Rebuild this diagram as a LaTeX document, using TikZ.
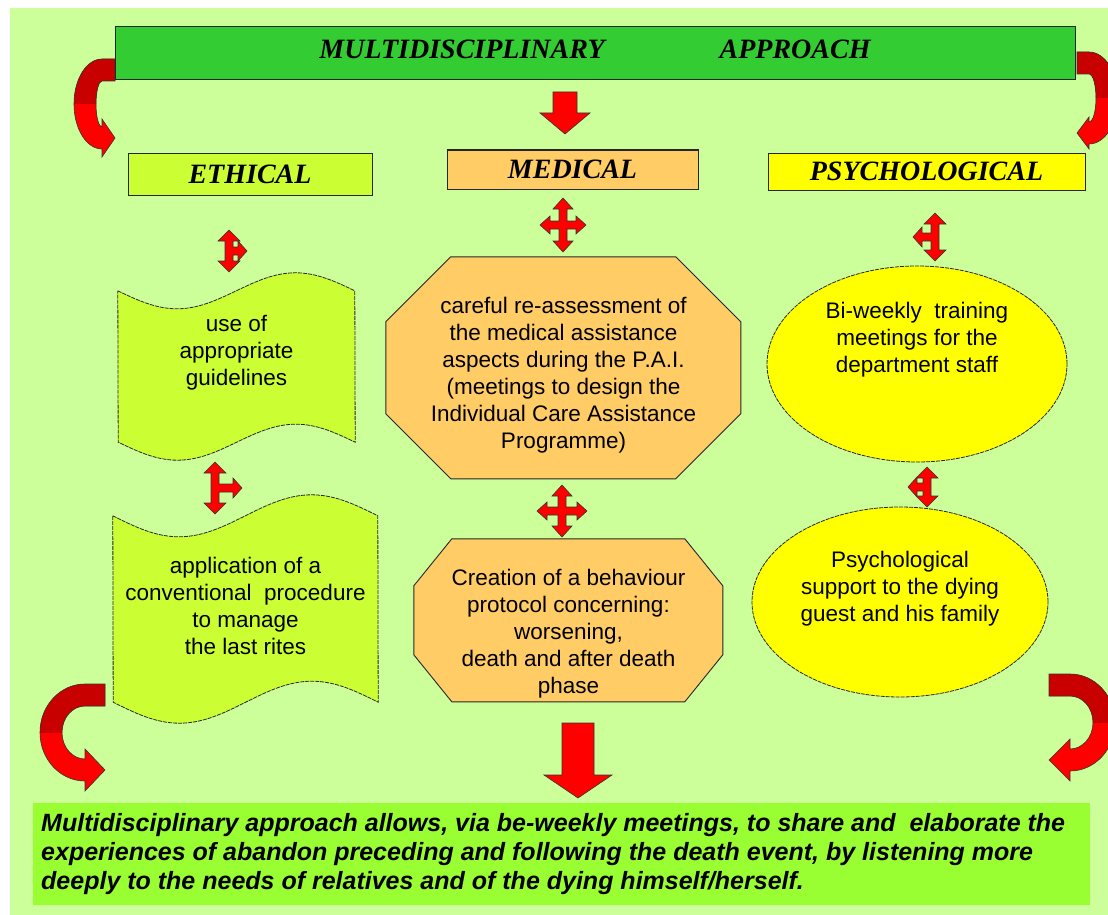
\documentclass[tikz,border=0pt]{standalone}
\usepackage{fontspec}
\setmainfont{Liberation Sans}
\newfontfamily\headfont{Liberation Serif}
\usetikzlibrary{shapes.geometric}

\definecolor{paper}{HTML}{CCFF99}
\definecolor{topgreen}{HTML}{33CC33}
\definecolor{ethlime}{HTML}{CCFF33}
\definecolor{medorange}{HTML}{FFCC66}
\definecolor{psyyellow}{HTML}{FFFF00}
\definecolor{notegreen}{HTML}{99FF33}
\definecolor{arrowred}{HTML}{FF0000}
\definecolor{arrowdark}{HTML}{C80000}

% wavy banner: name, centre, width, height, bend, text shift, text
\newcommand{\wavebox}[7]{%
  \node[inner sep=0pt, minimum width=#3, minimum height=#4] (#1) at #2 {};
  \filldraw[wave] (#1.north west) sin ++(#3/4,#5) cos ++(#3/4,-#5) sin ++(#3/4,-#5) cos ++(#3/4,#5)
    -- (#1.south east) sin ++(-#3/4,-#5) cos ++(-#3/4,#5) sin ++(-#3/4,#5) cos ++(-#3/4,-#5) -- cycle;
  \node[body, yshift=#6] (#1-text) at (#1) {#7};}

% octagon: name, centre, width, height, cut x, cut y, text shift, text
\newcommand{\octbox}[8]{%
  \node[inner sep=0pt, minimum width=#3, minimum height=#4] (#1) at #2 {};
  \filldraw[octagon] (#1.north west) ++(#5,0) -- ++(#3-2*#5,0) -- ++(#5,#6) -- ++(0,#4-2*#6)
    -- ++(-#5,#6) -- ++(-#3+2*#5,0) -- ++(-#5,-#6) -- ++(0,-#4+2*#6) -- cycle;
  \node[body, yshift=#7] (#1-text) at (#1) {#8};}

% curved block arrow: start, side (1 right, -1 left), x radius, y radius, head length, head half width
\newcommand{\bentarrow}[6]{%
  \begin{scope}[shift={#1}, xscale=#2]
    \def\bandpath{(0,0) -- (#5,0) arc[start angle=-90, end angle=90, x radius=#3+11, y radius=#4+11]
      -- ++(0,#6-11) -- (0,2*#4+11) -- (#5,2*#4+11-#6) -- (#5,2*#4)
      arc[start angle=90, end angle=-90, x radius=#3-11, y radius=#4-11] -- (0,22) -- cycle}
    \fill[arrowred] \bandpath;
    \begin{scope}
      \clip (-5,-5) rectangle (#3+#5+30,#4+11);
      \fill[arrowdark] \bandpath;
    \end{scope}
    \draw[black!80, line width=0.6pt] \bandpath;
  \end{scope}}

% double arrow with one side branch: centre, half height, arm, side (1 right, -1 left)
\newcommand{\tarrow}[4]{%
  \begin{scope}[shift={#1}, xscale=#4]
    \filldraw[block arrow] (0,-#2) -- (11,-#2+11) -- (4,-#2+11) -- (4,-4) -- (#3-9,-4) -- (#3-9,-10)
      -- (#3,0) -- (#3-9,10) -- (#3-9,4) -- (4,4) -- (4,#2-11) -- (11,#2-11) -- (0,#2)
      -- (-11,#2-11) -- (-4,#2-11) -- (-4,-#2+11) -- (-11,-#2+11) -- cycle;
  \end{scope}}

% four way arrow: centre, half height, arm
\newcommand{\crossarrow}[3]{%
  \begin{scope}[shift={#1}]
    \filldraw[block arrow] (0,-#2) -- (10,-#2+11) -- (4,-#2+11) -- (4,-4) -- (#3-10,-4) -- (#3-10,-9)
      -- (#3,0) -- (#3-10,9) -- (#3-10,4) -- (4,4) -- (4,#2-11) -- (10,#2-11) -- (0,#2)
      -- (-10,#2-11) -- (-4,#2-11) -- (-4,4) -- (-#3+10,4) -- (-#3+10,9) -- (-#3,0)
      -- (-#3+10,-9) -- (-#3+10,-4) -- (-4,-4) -- (-4,-#2+11) -- (-10,-#2+11) -- cycle;
  \end{scope}}

\begin{document}
\begin{tikzpicture}[x=1pt, y=-1pt,
    head box/.style={draw=black!85, line width=1pt, inner sep=0pt,
                     font=\headfont\bfseries\itshape\fontsize{28}{32}\selectfont},
    head text/.style={inner sep=0pt, font=\headfont\bfseries\itshape\fontsize{28}{32}\selectfont},
    body/.style={align=center, inner sep=0pt, font=\fontsize{22.5}{27}\selectfont},
    wave/.style={fill=ethlime, draw=black!85, line width=0.8pt, dash pattern=on 4pt off 1pt},
    oval/.style={ellipse, fill=psyyellow, draw=black!85, line width=0.8pt,
                 dash pattern=on 4pt off 1pt, inner sep=0pt},
    octagon/.style={fill=medorange, draw=black!85, line width=0.9pt},
    block arrow/.style={fill=arrowred, draw=black!80, line width=0.6pt},
    note text/.style={align=left, inner sep=0pt, font=\bfseries\itshape\fontsize{25}{29}\selectfont}
]
\useasboundingbox (0,0) rectangle (1108,915);
\fill[white] (0,0) rectangle (1108,915);
\fill[paper] (10,8) rectangle (1108,915);

% Draw the curved arrows
\bentarrow{(115,59)}{-1}{17}{34}{13}{19}
\bentarrow{(1077,52)}{1}{18}{35}{12}{16}
\bentarrow{(105,684)}{-1}{34}{37.5}{20}{21}
\bentarrow{(1049,674)}{1}{34}{37.5}{21}{21}

% Draw the heading and the three areas
\node[head box, fill=topgreen, minimum width=960, minimum height=53] (multi) at (595,53.5) {};
\node[head text] (multi-text) at (595,49) {MULTIDISCIPLINARY\hspace{115pt}APPROACH};
\node[head box, fill=ethlime, minimum width=244, minimum height=42] (ethical) at (250,174) {ETHICAL};
\node[head box, fill=medorange, minimum width=251, minimum height=39] (medical) at (572.5,169.5) {MEDICAL};
\node[head box, fill=psyyellow, minimum width=317, minimum height=37] (psycho) at (926.5,171.5) {PSYCHOLOGICAL};
\filldraw[block arrow] (553,92) -- (577,92) -- (577,113) -- (590,113) -- (565,134) -- (540,113) -- (553,113) -- cycle;

% Ethical column
\wavebox{guide}{(236.5,366.5)}{237}{151}{18}{14}{use of\\appropriate\\guidelines}
\wavebox{rites}{(245.5,609)}{265}{186}{21}{3}{application of a\\conventional\ \ procedure\\to manage\\the last rites}
\tarrow{(229,251)}{21}{18}{1}
\tarrow{(215,488)}{26}{27}{1}

% Medical column
\octbox{reassess}{(563.5,368)}{355}{222}{65}{65}{-7}{careful re-assessment of\\the medical assistance\\aspects during the P.A.I.\\(meetings to design the\\Individual Care Assistance\\Programme)}
\octbox{protocol}{(568.5,620.5)}{309}{163}{38}{47}{-13}{Creation of a behaviour\\protocol concerning:\\worsening,\\death and after death\\phase}
\crossarrow{(563,225)}{27}{23}
\crossarrow{(562,511)}{26}{25}

% Psychological column
\node[oval, minimum width=300, minimum height=196,
      label={[body, yshift=24]center:{Bi-weekly\ \ training\\meetings for the\\department staff}}] (training) at (917,364) {};
\node[oval, minimum width=296, minimum height=190,
      label={[body, yshift=13.5]center:{Psychological\\support to the dying\\guest and his family}}] (support) at (900,602) {};
\tarrow{(935,237)}{24}{22}{-1}
\tarrow{(927,487)}{20}{19}{-1}

% Draw the summary
\filldraw[block arrow] (562,723) -- (594,723) -- (594,775) -- (612,775) -- (578,798) -- (544,775) -- (562,775) -- cycle;
\node[fill=notegreen, minimum width=1057, minimum height=102, inner sep=0pt] (summary) at (561.5,854) {};
\node[note text, anchor=west] (summary-text) at (41,854) {Multidisciplinary approach allows, via be-weekly meetings, to share and\ \ elaborate the\\experiences of abandon preceding and following the death event, by listening more\\deeply to the needs of relatives and of the dying himself/herself.};

\end{tikzpicture}
\end{document}
